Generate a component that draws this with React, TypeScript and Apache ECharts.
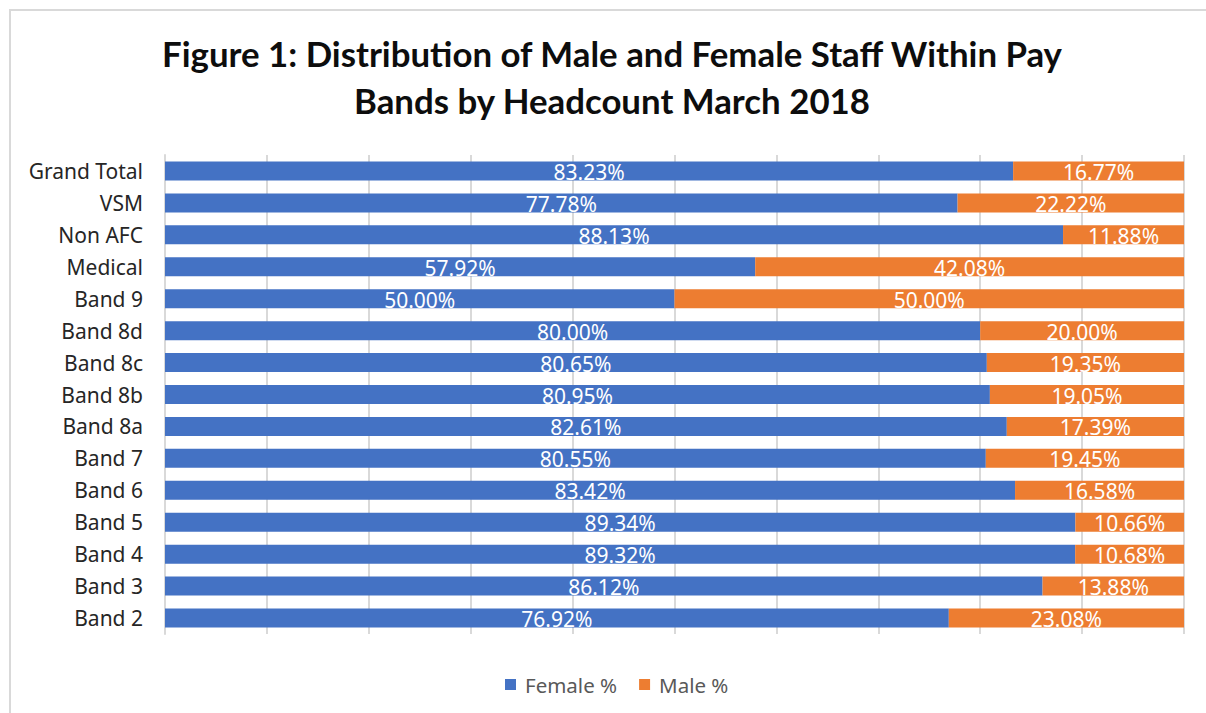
import React, { useEffect, useRef } from "react";
import * as echarts from "echarts";

const categories = [
  "Grand Total", "VSM", "Non AFC", "Medical", "Band 9", "Band 8d", "Band 8c",
  "Band 8b", "Band 8a", "Band 7", "Band 6", "Band 5", "Band 4", "Band 3", "Band 2",
];
const femalePct = [83.23, 77.78, 88.13, 57.92, 50.0, 80.0, 80.65, 80.95, 82.61, 80.55, 83.42, 89.34, 89.32, 86.12, 76.92];
const malePct = [16.77, 22.22, 11.88, 42.08, 50.0, 20.0, 19.35, 19.05, 17.39, 19.45, 16.58, 10.66, 10.68, 13.88, 23.08];
const titleLine1 = "Figure 1: Distribution of Male and Female Staff Within Pay";
const titleLine2 = "Bands by Headcount March 2018";

const FONT = "'Noto Sans', 'Liberation Sans', sans-serif";
const TITLE_FONT = "Lato, 'Liberation Sans', sans-serif";

export default function App() {
  const ref = useRef<HTMLDivElement>(null);
  useEffect(() => {
    if (!ref.current) return;
    const chart = echarts.init(ref.current, undefined, { renderer: "svg" });
    const label = {
      show: true,
      position: "inside",
      color: "#ffffff",
      fontSize: 21,
      fontFamily: FONT,
      offset: [0, 1],
      formatter: (p: any) => Number(p.value).toFixed(2) + "%",
    };
    const titleStyle = {
      fontFamily: TITLE_FONT,
      fontWeight: "bold",
      fontSize: 34.8,
      color: "#0d0d0d",
    };
    chart.setOption({
      animation: false,
      backgroundColor: "#ffffff",
      title: [
        { text: titleLine1, left: 612, textAlign: "center", top: 36, padding: 0, textStyle: titleStyle },
        { text: titleLine2, left: 612, textAlign: "center", top: 83, padding: 0, textStyle: titleStyle },
      ],
      graphic: [
        {
          type: "rect",
          shape: { x: 10, y: 10, width: 1210, height: 720 },
          style: { fill: "none", stroke: "#d9d9d9", lineWidth: 2 },
          silent: true,
        },
      ],
      legend: {
        top: 674,
        left: 505,
        padding: 0,
        itemWidth: 11,
        itemHeight: 11,
        itemGap: 22,
        icon: "rect",
        textStyle: { fontFamily: FONT, fontSize: 20.5, color: "#595959", padding: [0, 0, 0, 4] },
        data: ["Female %", "Male %"],
      },
      grid: { left: 165, right: 22, top: 155, bottom: 79, containLabel: false },
      xAxis: {
        type: "value",
        min: 0,
        max: 100,
        interval: 10,
        axisLabel: { show: false },
        axisLine: { show: false },
        axisTick: { show: false },
        splitLine: { show: true, lineStyle: { color: "#d9d9d9", width: 2 } },
      },
      yAxis: {
        type: "category",
        inverse: true,
        data: categories,
        axisLine: { show: true, lineStyle: { color: "#d9d9d9", width: 2 } },
        axisTick: { show: false },
        axisLabel: { fontFamily: FONT, fontSize: 21, color: "#262626", margin: 22 },
      },
      series: [
        {
          name: "Female %",
          type: "bar",
          stack: "total",
          barWidth: 19,
          itemStyle: { color: "#4472C4" },
          label,
          data: femalePct,
        },
        {
          name: "Male %",
          type: "bar",
          stack: "total",
          barWidth: 19,
          itemStyle: { color: "#ED7D31" },
          label,
          data: malePct,
        },
      ],
    });
    return () => chart.dispose();
  }, []);
  return (
    <div
      ref={ref}
      style={{ position: "fixed", left: 0, top: 0, width: 1206, height: 713 }}
    />
  );
}
